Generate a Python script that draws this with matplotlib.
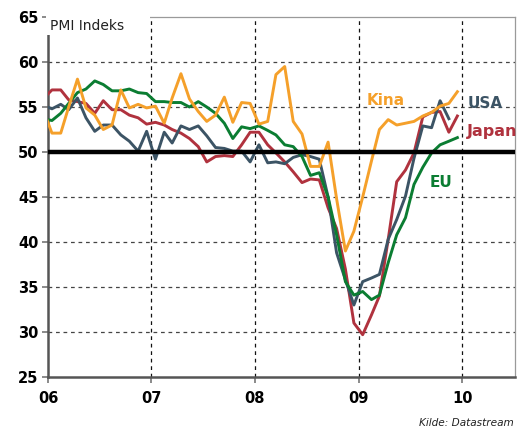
import numpy as np
import pandas as pd
import matplotlib
matplotlib.use("Agg")
import matplotlib.pyplot as plt
from matplotlib.patches import Rectangle

# Monthly PMI, Dec 2005 .. Dec 2009 (mid-month)
months = pd.date_range("2005-12-01", "2009-12-01", freq="MS") + pd.Timedelta(days=14)

kina = [54.7, 52.1, 52.1, 55.0, 58.1, 54.9, 54.1, 52.5, 53.0, 56.9, 54.9, 55.3,
        54.9, 55.1, 53.2, 56.0, 58.7, 55.9, 54.5, 53.4, 54.1, 56.1, 53.3, 55.5,
        55.4, 53.1, 53.4, 58.6, 59.5, 53.4, 52.0, 48.4, 48.4, 51.1, 44.8, 39.0,
        41.2, 45.0, 49.0, 52.5, 53.6, 53.0, 53.2, 53.4, 54.0, 54.4, 55.1, 55.4,
        56.7]
eu = [53.7, 53.5, 54.3, 55.4, 56.6, 57.0, 57.9, 57.5, 56.8, 56.8, 57.0, 56.6,
      56.5, 55.6, 55.6, 55.5, 55.5, 55.0, 55.6, 55.0, 54.3, 53.2, 51.5, 52.8,
      52.6, 52.9, 52.4, 51.9, 50.8, 50.6, 49.5, 47.4, 47.7, 45.0, 40.8, 35.6,
      34.1, 34.5, 33.6, 34.1, 37.7, 40.8, 42.7, 46.4, 48.3, 49.9, 50.8, 51.2,
      51.6]
japan = [55.9, 56.9, 56.9, 55.8, 55.6, 55.4, 54.3, 55.7, 54.7, 54.7, 54.1, 53.8,
         53.1, 53.3, 53.0, 52.5, 52.1, 51.5, 50.6, 48.9, 49.5, 49.6, 49.5, 50.8,
         52.2, 52.2, 50.8, 49.9, 48.9, 47.8, 46.6, 47.0, 46.9, 43.8, 41.5, 37.0,
         31.0, 29.7, 31.9, 34.0, 40.3, 46.7, 48.0, 49.9, 53.9, 54.4, 54.5, 52.2,
         54.0]
usa = [55.2, 54.8, 55.3, 54.7, 56.0, 53.8, 52.3, 53.0, 53.0, 51.9, 51.2, 50.1,
       52.3, 49.2, 52.2, 51.0, 52.9, 52.5, 52.9, 51.8, 50.5, 50.4, 50.1, 50.1,
       48.9, 50.8, 48.8, 48.9, 48.7, 49.4, 49.7, 49.5, 49.2, 45.0, 38.8, 35.8,
       33.0, 35.6, 36.0, 36.4, 40.3, 42.5, 45.1, 49.3, 52.9, 52.7, 55.7, 53.7,
       np.nan]

year_labels = ["06", "07", "08", "09", "10"]
y_ticks = [25, 30, 35, 40, 45, 50, 55, 60, 65]

c_kina = "#F5A02A"
c_eu = "#0B7D32"
c_japan = "#B0323E"
c_usa = "#3C5465"

fig = plt.figure(figsize=(5.17, 4.32), dpi=100)
ax = fig.add_axes([0.0928, 0.1273, 0.9032, 0.8333])

x0 = pd.Timestamp("2006-01-01")
x1 = pd.Timestamp("2010-07-06")
ax.set_xlim(x0, x1)
ax.set_ylim(25, 65)

year_ticks = [pd.Timestamp(f"20{y}-01-01") for y in year_labels]
ax.set_xticks(year_ticks)
ax.set_xticklabels(year_labels, fontsize=10.5, fontweight="bold")
ax.set_yticks(y_ticks)
ax.set_yticklabels([str(v) for v in y_ticks], fontsize=10.5, fontweight="bold")

# grid
for v in [30, 35, 40, 45, 55, 60]:
    ax.axhline(v, color="#444444", lw=0.9, ls=(0, (3, 3)), zorder=1)
for t in year_ticks[1:]:
    ax.axvline(t, color="#111111", lw=0.9, ls=(0, (3, 3)), zorder=1)

lw = 2.1
ax.plot(months, japan, color=c_japan, lw=lw, zorder=3)
ax.plot(months, usa, color=c_usa, lw=lw, zorder=3)
ax.plot(months, eu, color=c_eu, lw=lw, zorder=3)
ax.plot(months, kina, color=c_kina, lw=lw, zorder=3)

ax.axhline(50, color="black", lw=3.2, zorder=4)

# spines
for s in ["top", "right"]:
    ax.spines[s].set_color("#9a9a9a")
    ax.spines[s].set_linewidth(0.9)
for s in ["left", "bottom"]:
    ax.spines[s].set_color("#555555")
    ax.spines[s].set_linewidth(1.8)
ax.tick_params(axis="both", direction="out", length=4, width=1.2, color="#777777", pad=3)
ax.tick_params(axis="x", pad=6)

# white cover behind the unit label (hides top of left spine and top spine)
ax.add_patch(Rectangle((-0.004, 0.95), 0.222, 0.07, transform=ax.transAxes,
                       facecolor="white", edgecolor="none", clip_on=False, zorder=10))
ax.text(0.005, 0.975, "PMI Indeks", transform=ax.transAxes, fontsize=10,
        color="#222222", ha="left", va="center", zorder=11)

# series labels
ax.text(0.683, 0.767, "Kina", transform=ax.transAxes, color=c_kina,
        fontsize=11, fontweight="bold", ha="left", va="center", zorder=6)
ax.text(0.899, 0.760, "USA", transform=ax.transAxes, color=c_usa,
        fontsize=11, fontweight="bold", ha="left", va="center", zorder=6)
ax.text(0.897, 0.682, "Japan", transform=ax.transAxes, color=c_japan,
        fontsize=11.5, fontweight="bold", ha="left", va="center", zorder=6)
ax.text(0.817, 0.540, "EU", transform=ax.transAxes, color=c_eu,
        fontsize=11, fontweight="bold", ha="left", va="center", zorder=6)

fig.text(0.994, 0.010, "Kilde: Datastream", fontsize=7.6, style="italic",
         color="#222222", ha="right", va="bottom")

fig.savefig("out.png", dpi=100)
